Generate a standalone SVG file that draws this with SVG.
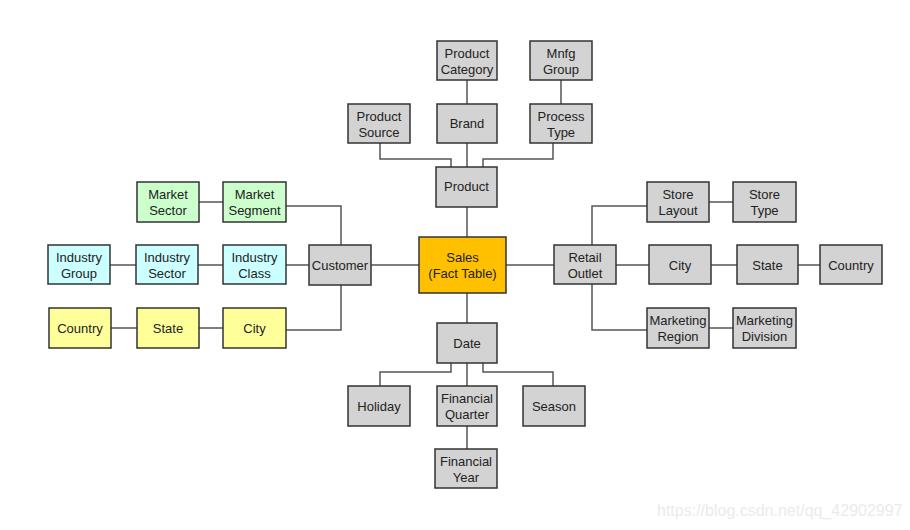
<svg xmlns="http://www.w3.org/2000/svg" width="910" height="530" viewBox="0 0 910 530">
<style>
.n rect{stroke:#333;stroke-width:1.5}
.g rect{fill:#d3d3d3}
.gr rect{fill:#ccffcc}
.cy rect{fill:#ccffff}
.ye rect{fill:#ffff99}
.n text{font-family:"Liberation Sans",Arial,sans-serif;font-size:13px;fill:#222;text-anchor:middle}
#connectors path{fill:none;stroke:#555;stroke-width:1.5}
.wm{font-family:"Liberation Sans",Arial,sans-serif;font-size:16px;fill:#ebebeb}
</style>
<rect width="910" height="530" fill="#fff"/>
<g id="connectors">
<path d="M467 80V104M561 80V104M467 143V167M380 143V159H451V167M553 143V159H483V167M467 207V237"/>
<path d="M467 293V323M467 363V386M467 426V449M451 363V372H380V386M483 363V372H553V386"/>
<path d="M199 202H223M286 206H341V245M110 265H136M198 265H223M286 265H309M371 265H419M111 328H137M199 328H223M286 330H341V285"/>
<path d="M506 265H554M616 265H649M711 265H737M798 265H820M592 245V206H647M709 202H733M592 284V330H647M709 328H733"/>
</g>
<g id="sales" class="n"><rect x="419" y="237" width="87" height="56" fill="#ffc000"/><text x="462.5" y="262">Sales</text><text x="462.5" y="278">(Fact Table)</text></g>
<g id="product-category" class="n g"><rect x="437" y="41" width="60" height="39"/><text x="467" y="58">Product</text><text x="467" y="74">Category</text></g>
<g id="mnfg-group" class="n g"><rect x="530" y="41" width="62" height="39"/><text x="561" y="58">Mnfg</text><text x="561" y="74">Group</text></g>
<g id="product-source" class="n g"><rect x="348" y="104" width="62" height="39"/><text x="379" y="121">Product</text><text x="379" y="137">Source</text></g>
<g id="brand" class="n g"><rect x="437" y="104" width="60" height="39"/><text x="467" y="128">Brand</text></g>
<g id="process-type" class="n g"><rect x="530" y="104" width="62" height="39"/><text x="561" y="121">Process</text><text x="561" y="137">Type</text></g>
<g id="product" class="n g"><rect x="436" y="167" width="61" height="40"/><text x="466.5" y="191">Product</text></g>
<g id="market-sector" class="n gr"><rect x="137" y="182" width="62" height="40"/><text x="168" y="199">Market</text><text x="168" y="215">Sector</text></g>
<g id="market-segment" class="n gr"><rect x="223" y="182" width="63" height="40"/><text x="254.5" y="199">Market</text><text x="254.5" y="215">Segment</text></g>
<g id="industry-group" class="n cy"><rect x="48" y="245" width="62" height="39"/><text x="79" y="262">Industry</text><text x="79" y="278">Group</text></g>
<g id="industry-sector" class="n cy"><rect x="136" y="245" width="62" height="39"/><text x="167" y="262">Industry</text><text x="167" y="278">Sector</text></g>
<g id="industry-class" class="n cy"><rect x="223" y="245" width="63" height="39"/><text x="254.5" y="262">Industry</text><text x="254.5" y="278">Class</text></g>
<g id="customer" class="n g"><rect x="309" y="245" width="62" height="40"/><text x="340" y="270">Customer</text></g>
<g id="c-country" class="n ye"><rect x="49" y="308" width="62" height="40"/><text x="80" y="333">Country</text></g>
<g id="c-state" class="n ye"><rect x="137" y="308" width="62" height="40"/><text x="168" y="333">State</text></g>
<g id="c-city" class="n ye"><rect x="223" y="308" width="63" height="40"/><text x="254.5" y="333">City</text></g>
<g id="store-layout" class="n g"><rect x="647" y="182" width="62" height="40"/><text x="678" y="199">Store</text><text x="678" y="215">Layout</text></g>
<g id="store-type" class="n g"><rect x="733" y="182" width="63" height="40"/><text x="764.5" y="199">Store</text><text x="764.5" y="215">Type</text></g>
<g id="retail-outlet" class="n g"><rect x="554" y="245" width="62" height="39"/><text x="585" y="262">Retail</text><text x="585" y="278">Outlet</text></g>
<g id="r-city" class="n g"><rect x="649" y="245" width="62" height="39"/><text x="680" y="270">City</text></g>
<g id="r-state" class="n g"><rect x="737" y="245" width="61" height="39"/><text x="767.5" y="270">State</text></g>
<g id="r-country" class="n g"><rect x="820" y="245" width="62" height="39"/><text x="851" y="270">Country</text></g>
<g id="marketing-region" class="n g"><rect x="647" y="308" width="62" height="40"/><text x="678" y="325">Marketing</text><text x="678" y="341">Region</text></g>
<g id="marketing-division" class="n g"><rect x="733" y="308" width="63" height="40"/><text x="764.5" y="325">Marketing</text><text x="764.5" y="341">Division</text></g>
<g id="date" class="n g"><rect x="437" y="323" width="60" height="40"/><text x="467" y="348">Date</text></g>
<g id="holiday" class="n g"><rect x="348" y="386" width="62" height="40"/><text x="379" y="411">Holiday</text></g>
<g id="financial-quarter" class="n g"><rect x="437" y="386" width="60" height="40"/><text x="467" y="403">Financial</text><text x="467" y="419">Quarter</text></g>
<g id="season" class="n g"><rect x="523" y="386" width="62" height="40"/><text x="554" y="411">Season</text></g>
<g id="financial-year" class="n g"><rect x="435" y="449" width="62" height="39"/><text x="466" y="466">Financial</text><text x="466" y="482">Year</text></g>
<text class="wm" x="657" y="516">https://blog.csdn.net/qq_42902997</text>
</svg>
